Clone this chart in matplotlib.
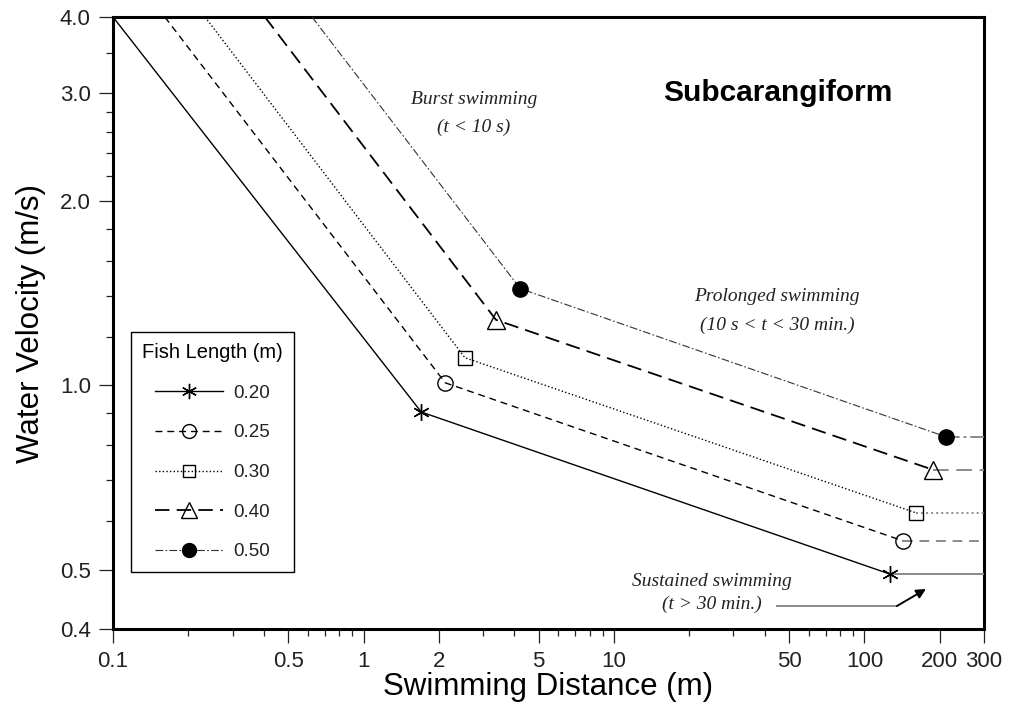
import matplotlib
matplotlib.use("Agg")
import matplotlib.pyplot as plt
from matplotlib.lines import Line2D
from matplotlib.ticker import FixedLocator, NullFormatter, FixedFormatter

# Fish lengths and swimming-mode curves (distance in m, velocity in m/s)
fish_lengths = ["0.20", "0.25", "0.30", "0.40", "0.50"]
entry_distance = [0.10, 0.161, 0.233, 0.404, 0.623]   # where each curve enters at v = 4.0
entry_velocity = [4.0, 4.0, 4.0, 4.0, 4.0]
burst_end_distance = [1.70, 2.12, 2.54, 3.38, 4.22]
burst_end_velocity = [0.905, 1.01, 1.11, 1.28, 1.44]
prolonged_end_distance = [126, 143, 161, 188, 212]
prolonged_end_velocity = [0.492, 0.557, 0.619, 0.728, 0.824]
max_distance = 300

x_major = [0.1, 0.5, 1, 2, 5, 10, 50, 100, 200, 300]
x_major_labels = ["0.1", "0.5", "1", "2", "5", "10", "50", "100", "200", "300"]
x_minor = [0.2, 0.3, 0.4, 0.6, 0.7, 0.8, 0.9, 3, 4, 6, 7, 8, 9,
           20, 30, 40, 60, 70, 80, 90]
y_major = [0.4, 0.5, 1.0, 2.0, 3.0, 4.0]
y_major_labels = ["0.4", "0.5", "1.0", "2.0", "3.0", "4.0"]
y_minor = [0.6, 0.7, 0.8, 0.9, 1.2, 1.4, 1.6, 1.8, 2.2, 2.4, 2.6, 2.8, 3.5]

styles = [
    dict(ls="-", lw=1.0, color="black", marker=(6, 2, 0), ms=12, mfc="none"),
    dict(ls=(0, (5, 3.5)), lw=1.0, color="black", marker="o", ms=11, mfc="none"),
    dict(ls=(0, (1, 1.6)), lw=1.0, color="black", marker="s", ms=10, mfc="none"),
    dict(ls=(0, (8, 4)), lw=1.3, color="black", marker="^", ms=13, mfc="none"),
    dict(ls=(0, (7, 2, 1.5, 2)), lw=0.8, color="#333333", marker="o", ms=11,
         mfc="black"),
]

plt.rcParams["font.family"] = ["Liberation Sans", "DejaVu Sans"]

fig = plt.figure(figsize=(10.12, 7.15), dpi=100)
ax = fig.add_axes([0.1117, 0.1203, 0.8606, 0.8559])
ax.set_xscale("log")
ax.set_yscale("log")
ax.set_xlim(0.1, 300)
ax.set_ylim(0.4, 4.0)

handles = []
for i, lab in enumerate(fish_lengths):
    st = styles[i]
    xs = [entry_distance[i], burst_end_distance[i], prolonged_end_distance[i]]
    ys = [entry_velocity[i], burst_end_velocity[i], prolonged_end_velocity[i]]
    ax.plot(xs, ys, linestyle=st["ls"], lw=st["lw"], color=st["color"],
            zorder=3, solid_capstyle="butt")
    # sustained swimming: constant velocity beyond the prolonged limit
    ax.plot([prolonged_end_distance[i], max_distance],
            [prolonged_end_velocity[i], prolonged_end_velocity[i]],
            linestyle=st["ls"], lw=1.4, color="#8a8a8a", zorder=3)
    ax.plot([burst_end_distance[i], prolonged_end_distance[i]],
            [burst_end_velocity[i], prolonged_end_velocity[i]],
            linestyle="none", marker=st["marker"], ms=st["ms"],
            mfc=st["mfc"], mec="black", mew=1.0, zorder=4, clip_on=False)
    handles.append(Line2D([], [], linestyle=st["ls"], lw=st["lw"],
                          color=st["color"], marker=st["marker"],
                          ms=st["ms"] - 1, mfc=st["mfc"], mec="black",
                          mew=1.0, label=lab))

ax.xaxis.set_major_locator(FixedLocator(x_major))
ax.xaxis.set_major_formatter(FixedFormatter(x_major_labels))
ax.xaxis.set_minor_locator(FixedLocator(x_minor))
ax.xaxis.set_minor_formatter(NullFormatter())
ax.yaxis.set_major_locator(FixedLocator(y_major))
ax.yaxis.set_major_formatter(FixedFormatter(y_major_labels))
ax.yaxis.set_minor_locator(FixedLocator(y_minor))
ax.yaxis.set_minor_formatter(NullFormatter())

ax.tick_params(which="major", direction="out", length=10, width=0.9,
               labelsize=16, colors="#222222", pad=6)
ax.tick_params(which="minor", direction="out", length=5, width=0.9,
               colors="#222222")
for sp in ax.spines.values():
    sp.set_linewidth(2.2)
    sp.set_color("black")

ax.set_xlabel("Swimming Distance (m)", fontsize=22.5, labelpad=0)
ax.set_ylabel("Water Velocity (m/s)", fontsize=22.5, labelpad=10)

leg = ax.legend(handles=handles, title="Fish Length (m)", loc="upper left",
                bbox_to_anchor=(0.0207, 0.4853), borderaxespad=0,
                fontsize=13.5, title_fontsize=14.5, frameon=True,
                fancybox=False, handlelength=3.6, handletextpad=0.55,
                labelspacing=1.2, borderpad=0.6, framealpha=1)
leg.get_frame().set_edgecolor("black")
leg.get_frame().set_linewidth(1.0)
for t in leg.get_texts():
    t.set_color("#222222")

ax.text(0.7635, 0.876, "Subcarangiform", transform=ax.transAxes,
        fontsize=21.5, fontweight="bold", ha="center", va="center")

note = dict(family=["Liberation Serif", "DejaVu Serif"], style="italic",
            fontsize=14, ha="center", va="center", transform=ax.transAxes,
            color="#222222")
ax.text(0.4145, 0.8644, "Burst swimming", **note)
ax.text(0.4145, 0.8203, "(t < 10 s)", **note)
ax.text(0.7623, 0.5425, "Prolonged swimming", **note)
ax.text(0.7623, 0.4967, "(10 s < t < 30 min.)", **note)
ax.text(0.6878, 0.0775, "Sustained swimming", **note)
ax.text(0.6878, 0.0395, "(t > 30 min.)", **note)

ax.plot([0.7623, 0.9001], [0.0375, 0.0375], transform=ax.transAxes,
        color="#8a8a8a", lw=1.4, clip_on=False)
ax.annotate("", xy=(0.9334, 0.0654), xytext=(0.9001, 0.0375),
            xycoords="axes fraction", textcoords="axes fraction",
            arrowprops=dict(arrowstyle="-|>", color="#8a8a8a", lw=1.4,
                            mutation_scale=14, shrinkA=0, shrinkB=0,
                            fc="black", ec="black"))

fig.savefig("out.png", dpi=100)
